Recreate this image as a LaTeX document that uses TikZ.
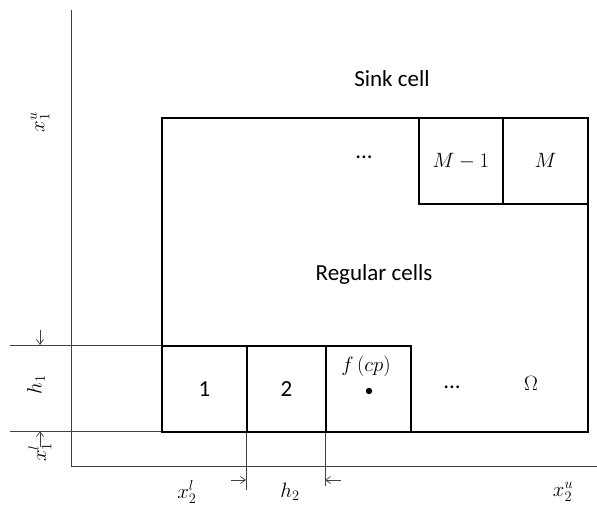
\documentclass[tikz,border=0pt]{standalone}
\usepackage{fontspec}
\setmainfont{Carlito}
\usetikzlibrary{arrows.meta}
\begin{document}
\begin{tikzpicture}[x=1pt,y=-1pt,
  thickbox/.style={draw=black,line width=1.8pt},
  thinline/.style={draw=black!75,line width=0.8pt},
  dimarrow/.style={draw=black!75,line width=0.7pt,-{Straight Barb[length=5pt,width=7pt]}},
  lbl/.style={font=\fontsize{23}{27}\selectfont,inner sep=0pt},
  mlbl/.style={font=\fontsize{21}{25}\selectfont,inner sep=0pt}]
\useasboundingbox (0,0) rectangle (597,506);
% axes
\coordinate (ytop) at (71,10);
\coordinate (orig) at (71,466);
\coordinate (xend) at (597,466);
\draw[thinline] (ytop) -- (orig) -- (xend);
% guide lines
\coordinate (g1a) at (10,345); \coordinate (g1b) at (161,345);
\coordinate (g2a) at (10,431); \coordinate (g2b) at (161,431);
\draw[thinline] (g1a) -- (g1b);
\draw[thinline] (g2a) -- (g2b);
\coordinate (v1a) at (246,431); \coordinate (v1b) at (246,490);
\coordinate (v2a) at (325,431); \coordinate (v2b) at (325,486);
\draw[thinline] (v1a) -- (v1b);
\draw[thinline] (v2a) -- (v2b);
% dimension arrows
\coordinate (a1s) at (40,330); \coordinate (a1e) at (40,345);
\coordinate (a2s) at (40,447); \coordinate (a2e) at (40,431);
\coordinate (a3s) at (231,480); \coordinate (a3e) at (246,480);
\coordinate (a4s) at (341,480); \coordinate (a4e) at (325,480);
\draw[dimarrow] (a1s) -- (a1e);
\draw[dimarrow] (a2s) -- (a2e);
\draw[dimarrow] (a3s) -- (a3e);
\draw[dimarrow] (a4s) -- (a4e);
% domain
\node[thickbox,minimum width=426pt,minimum height=314pt,inner sep=0pt,anchor=north west] (omega) at (161,117) {};
% bottom cells
\node[thickbox,minimum width=85pt,minimum height=86pt,inner sep=0pt,anchor=north west] (c1) at (161,345) {};
\node[thickbox,minimum width=79pt,minimum height=86pt,inner sep=0pt,anchor=north west] (c2) at (246,345) {};
\node[thickbox,minimum width=85pt,minimum height=86pt,inner sep=0pt,anchor=north west] (c3) at (325,345) {};
% top cells
\node[thickbox,minimum width=84pt,minimum height=86pt,inner sep=0pt,anchor=north west] (cm1) at (418,117) {};
\node[thickbox,minimum width=85pt,minimum height=86pt,inner sep=0pt,anchor=north west] (cm) at (502,117) {};
% labels
\node[lbl] (sink) at (392,79) {Sink cell};
\node[lbl] (reg) at (374,274) {Regular cells};
\node[lbl] (dots1) at (364,157) {...};
\node[mlbl] at (cm1.center) {$M-1$};
\node[mlbl] at (cm.center) {$M$};
\node[lbl] at (c1.center) {1};
\node[lbl] at (c2.center) {2};
\node[mlbl] (fcp) at (366,366) {$f\,(cp)$};
\fill (369,391) circle (3.2pt);
\node[lbl] (dots2) at (452,387) {...};
\node[mlbl] (om) at (531,383) {$\Omega$};
\node[mlbl,rotate=90] (h1) at (36,385) {$h_1$};
\node[mlbl,rotate=90] (x1l) at (40,452) {$x_1^l$};
\node[mlbl,rotate=90] (x1u) at (40,122) {$x_1^u$};
\node[mlbl] (x2l) at (187,492) {$x_2^l$};
\node[mlbl] (h2) at (290,492) {$h_2$};
\node[mlbl] (x2u) at (563,492) {$x_2^u$};
\end{tikzpicture}
\end{document}
